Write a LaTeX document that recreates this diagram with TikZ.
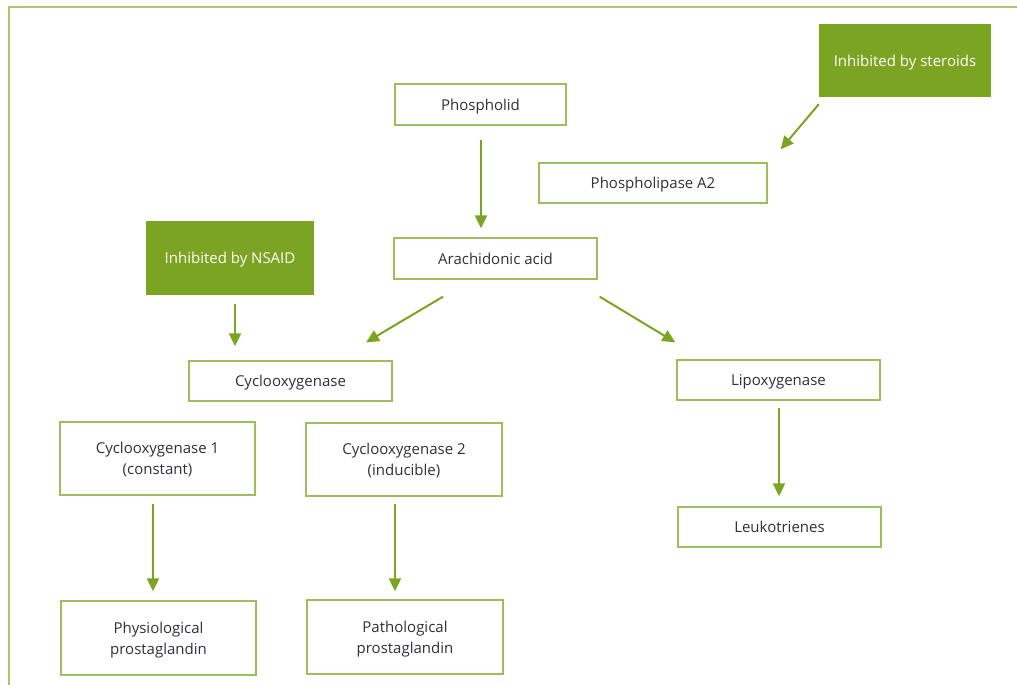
\documentclass[tikz,border=0pt]{standalone}
\usepackage{fontspec}
\setmainfont{Open Sans}
\usetikzlibrary{arrows.meta}
\definecolor{frame}{HTML}{A9C770}
\definecolor{boxline}{HTML}{9DBD5E}
\definecolor{darkg}{HTML}{7AA422}
\definecolor{txt}{HTML}{30303C}
\tikzset{
  box/.style={draw=boxline, line width=1.3pt, fill=white, text=txt, align=center, inner sep=0pt,
    text depth=0pt, font=\fontsize{15}{21}\selectfont},
  gbox/.style={fill=darkg, text=white, align=center, inner sep=0pt,
    text depth=0pt, font=\fontsize{15}{21}\selectfont},
  arr/.style={draw=darkg, line width=2pt, -{Triangle[length=13pt,width=12pt]}},
}
\begin{document}
\begin{tikzpicture}[x=1pt,y=-1pt]
\useasboundingbox (0,0) rectangle (1017,685);
\draw[frame, line width=2pt] (9,685) -- (9,7) -- (1017,7);

\node[box, minimum width=171, minimum height=41] (phos) at (480.5,104.5) {Phospholid};
\node[gbox, minimum width=172, minimum height=73] (ster) at (905,60.5) {Inhibited by steroids};
\node[box, minimum width=228, minimum height=40] (pla) at (653,183) {Phospholipase A2};
\node[box, minimum width=203, minimum height=41] (arach) at (495.5,258.5) {Arachidonic acid};
\node[gbox, minimum width=168, minimum height=74] (nsaid) at (230,258) {Inhibited by NSAID};
\node[box, minimum width=203, minimum height=40] (cox) at (290.5,381) {Cyclooxygenase};
\node[box, minimum width=203, minimum height=40] (lipo) at (778.5,380) {Lipoxygenase};
\node[box, minimum width=195, minimum height=73] (cox1) at (157.5,458.5) {Cyclooxygenase 1\\(constant)};
\node[box, minimum width=196, minimum height=73] (cox2) at (404,459.5) {Cyclooxygenase 2\\(inducible)};
\node[box, minimum width=203, minimum height=40] (leuk) at (779.5,527) {Leukotrienes};
\node[box, minimum width=195, minimum height=74] (phys) at (158.5,638) {Physiological\\prostaglandin};
\node[box, minimum width=196, minimum height=74] (path) at (405,637) {Pathological\\prostaglandin};

\draw[arr] ([shift={(0.5,14)}]phos.south) -- ([shift={(-14.5,-9)}]arach.north);
\draw[arr] ([shift={(0,7)}]ster.south west) -- ([shift={(13,-13)}]pla.north east);
\draw[arr] ([shift={(5,9)}]nsaid.south) -- ([shift={(-55.5,-14)}]cox.north);
\draw[arr] ([shift={(-52.5,17)}]arach.south) -- ([shift={(75.5,-18)}]cox.north);
\draw[arr] ([shift={(2,17)}]arach.south east) -- ([shift={(-1,-17)}]lipo.north west);
\draw[arr] ([shift={(0.5,7)}]lipo.south) -- ([shift={(-0.5,-10)}]leuk.north);
\draw[arr] ([shift={(-4.5,8)}]cox1.south) -- ([shift={(-5.5,-9)}]phys.north);
\draw[arr] ([shift={(-9,7)}]cox2.south) -- ([shift={(-10,-8)}]path.north);
\end{tikzpicture}
\end{document}
